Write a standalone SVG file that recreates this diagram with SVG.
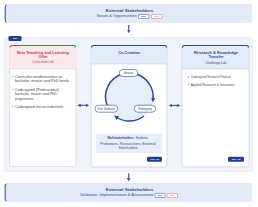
<svg xmlns="http://www.w3.org/2000/svg" width="258" height="207" viewBox="0 0 258 207">
<defs>
<style>
text{font-family:"Liberation Sans",Arial,sans-serif;}
.t{font-size:4.2px;font-weight:bold;fill:#2b4a8b;text-anchor:middle}
.s{font-size:3.5px;fill:#3a4f7a}
.b{font-size:3.3px;fill:#4a4a4a;}
.rt{font-size:3.8px;font-weight:bold;fill:#c23a47;text-anchor:middle}
.nt{font-size:3.8px;font-weight:bold;fill:#2b4a8b;text-anchor:middle}
.tag{fill:#22408a}
.tagt{font-size:2.4px;font-weight:bold;fill:#fff;text-anchor:middle}
.arrow{stroke:#3c5aa6;stroke-width:1.2;fill:none}
.pill{fill:#fff;stroke:#2b4a8b;stroke-width:0.6}
.pt{font-size:2.7px;fill:#2b4a8b;text-anchor:middle}
.it{font-size:3.3px;fill:#2b4a8b}
.bd{font-size:2.3px;text-anchor:middle;font-weight:bold}
</style>
<marker id="ah" viewBox="0 0 6 6" refX="3" refY="3" markerWidth="3" markerHeight="3" orient="auto-start-reverse"><path d="M0,0L6,3L0,6z" fill="#3c5aa6"/></marker>
<marker id="ch" viewBox="0 0 6 6" refX="3" refY="3" markerWidth="3" markerHeight="3" orient="auto"><path d="M0,0L6,3L0,6z" fill="#2b4a8b"/></marker>
</defs>

<g id="top-stakeholders">
<rect x="5" y="4" width="247" height="19" rx="2" fill="#e2eaf8"/>
<path d="M6.5,5 Q5.2,5 5.2,7 L5.2,20 Q5.2,22 6.5,22" stroke="#2b4a8b" stroke-width="1" fill="none"/>
<text class="t" x="129.5" y="12" textLength="47.5" lengthAdjust="spacingAndGlyphs">External Stakeholders</text>
<text class="s" x="96.7" y="17.3" textLength="40" lengthAdjust="spacingAndGlyphs">Needs &amp; Opportunities</text>
<rect x="138.5" y="14.5" width="10.5" height="4" rx="0.6" fill="#fff" stroke="#2b4a8b" stroke-width="0.45"/>
<text class="bd" x="143.75" y="17.3" fill="#2b4a8b">WTA</text>
<rect x="151.5" y="14.5" width="10.5" height="4" rx="0.6" fill="#fff" stroke="#d05a63" stroke-width="0.45"/>
<text class="bd" x="156.75" y="17.3" fill="#c23a47">PTA</text>
</g>

<g id="container">
<rect x="4.5" y="37.5" width="248" height="134" rx="2.5" fill="#f1f5fb" stroke="#dfe6f2" stroke-width="0.6"/>
<rect class="tag" x="8.5" y="36" width="13" height="5" rx="1.2"/>
<text class="tagt" x="15" y="39.3">TRL</text>
</g>

<g id="connectors">
<path class="arrow" d="M128.7,25 L128.7,31.5" marker-end="url(#ah)"/>
<path class="arrow" d="M128.7,173.3 L128.7,179.8" marker-end="url(#ah)"/>
<path class="arrow" d="M79,105.3 L87.5,105.3" marker-start="url(#ah)" marker-end="url(#ah)"/>
<path class="arrow" d="M170.5,105.5 L178.5,105.5" marker-start="url(#ah)" marker-end="url(#ah)"/>
</g>

<g id="curriculum-lab">
<rect x="9.5" y="45.5" width="66.5" height="121" rx="2.5" fill="#fff" stroke="#efc3c8" stroke-width="0.6"/>
<path d="M9.5,69 L9.5,48 Q9.5,45.5 12,45.5 L73.5,45.5 Q76,45.5 76,48 L76,69 Z" fill="#fbe8ea"/>
<path d="M10,47.5 Q10,45.5 12,45.5 L73.5,45.5 Q75.5,45.5 75.5,47.5" stroke="#c9404d" stroke-width="1.2" fill="none"/>
<line x1="9.5" y1="69" x2="76" y2="69" stroke="#efc3c8" stroke-width="0.5"/>
<text class="rt" x="43" y="53.6" textLength="52" lengthAdjust="spacingAndGlyphs">New Teaching and Learning</text>
<text class="rt" x="43" y="58.3">Offer</text>
<text x="43" y="63" style="font-size:3.2px;fill:#c23a47;text-anchor:middle">Curriculum Lab</text>
<g fill="#c9404d"><circle cx="12.8" cy="76.3" r="0.55"/><circle cx="12.8" cy="89.3" r="0.55"/><circle cx="12.8" cy="106.7" r="0.55"/></g>
<text class="b" x="15" y="77.5" textLength="47" lengthAdjust="spacingAndGlyphs">Curricular modernization at</text>
<text class="b" x="15" y="82.2" textLength="54" lengthAdjust="spacingAndGlyphs">bachelor, master and PhD levels</text>
<text class="b" x="15" y="90.5" textLength="44" lengthAdjust="spacingAndGlyphs">Codesigned (Professional)</text>
<text class="b" x="15" y="94.9" textLength="42" lengthAdjust="spacingAndGlyphs">bachelor, master and PhD</text>
<text class="b" x="15" y="99.5">programmes</text>
<text class="b" x="15" y="107.9" textLength="48" lengthAdjust="spacingAndGlyphs">Codesigned microcredentials</text>
</g>

<g id="co-creation">
<rect x="91" y="45.5" width="76" height="121.5" rx="2.5" fill="#fff" stroke="#b9c7e0" stroke-width="0.6"/>
<path d="M91,64 L91,48 Q91,45.5 93.5,45.5 L164.5,45.5 Q167,45.5 167,48 L167,64 Z" fill="#e3ebf8"/>
<path d="M91.5,47.5 Q91.5,45.5 93.5,45.5 L164.5,45.5 Q166.5,45.5 166.5,47.5" stroke="#2b4a8b" stroke-width="1.2" fill="none"/>
<line x1="91" y1="64" x2="167" y2="64" stroke="#b9c7e0" stroke-width="0.5"/>
<text class="nt" x="129" y="53.5">Co-Creation</text>
<circle cx="129.5" cy="97" r="24" fill="#e6edf9"/>
<path d="M136,74 A24,24 0 0 1 153,100" stroke="#2b4a8b" stroke-width="1.5" fill="none" marker-end="url(#ch)"/>
<path d="M144,116 A24,24 0 0 1 116,117" stroke="#2b4a8b" stroke-width="1.5" fill="none" marker-end="url(#ch)"/>
<path d="M107,105 A24,24 0 0 1 122,74" stroke="#2b4a8b" stroke-width="1.5" fill="none"/>
<rect class="pill" x="119.3" y="69.5" width="18.5" height="7" rx="3.5"/>
<text class="pt" x="128.5" y="74">Ideation</text>
<rect class="pill" x="95" y="105.2" width="22.7" height="7" rx="3.5"/>
<text class="pt" x="106.35" y="109.7" textLength="18" lengthAdjust="spacingAndGlyphs">User Validation</text>
<rect class="pill" x="134.3" y="105.2" width="21.4" height="7" rx="3.5"/>
<text class="pt" x="145" y="109.7">Prototyping</text>
<rect x="96" y="134" width="66" height="19" rx="1.5" fill="#e8eef9"/>
<text class="it" x="107.5" y="139.2" font-weight="bold" textLength="27" lengthAdjust="spacingAndGlyphs">Multistakeholders:</text>
<text class="it" x="135.5" y="139.2" textLength="13" lengthAdjust="spacingAndGlyphs">Students,</text>
<text class="it" x="128" y="144.5" text-anchor="middle" textLength="55.5" lengthAdjust="spacingAndGlyphs">Professors, Researchers, External</text>
<text class="it" x="128" y="149.4" text-anchor="middle">Stakeholders</text>
<rect class="tag" x="147" y="156.7" width="15" height="5" rx="1.2"/>
<text class="tagt" x="154.5" y="160">TRL 4/5</text>
</g>

<g id="challenge-lab">
<rect x="182" y="45.5" width="67" height="121.5" rx="2.5" fill="#fff" stroke="#b9c7e0" stroke-width="0.6"/>
<path d="M182,69 L182,48 Q182,45.5 184.5,45.5 L246.5,45.5 Q249,45.5 249,48 L249,69 Z" fill="#e3ebf8"/>
<path d="M182.5,47.5 Q182.5,45.5 184.5,45.5 L246.5,45.5 Q248.5,45.5 248.5,47.5" stroke="#2b4a8b" stroke-width="1.2" fill="none"/>
<line x1="182" y1="69" x2="249" y2="69" stroke="#b9c7e0" stroke-width="0.5"/>
<text class="nt" x="216" y="53.6" textLength="44" lengthAdjust="spacingAndGlyphs">Research &amp; Knowledge</text>
<text class="nt" x="216" y="58">Transfer</text>
<text x="216" y="64.3" style="font-size:3.2px;fill:#2b4a8b;text-anchor:middle">Challenge Lab</text>
<g fill="#2b4a8b"><circle cx="188.3" cy="77" r="0.55"/><circle cx="188.3" cy="84.3" r="0.55"/></g>
<text class="b" x="190.7" y="78.2" textLength="40" lengthAdjust="spacingAndGlyphs">Codesigned Research Projects</text>
<text class="b" x="190.7" y="85.5" textLength="44" lengthAdjust="spacingAndGlyphs">Applied Research &amp; Innovation</text>
<rect class="tag" x="228" y="156.7" width="16" height="5" rx="1.2"/>
<text class="tagt" x="236" y="160">TRL 7-8</text>
</g>

<g id="bottom-stakeholders">
<rect x="5" y="183" width="247" height="19" rx="2" fill="#e2eaf8"/>
<path d="M6.5,184 Q5.2,184 5.2,186 L5.2,199 Q5.2,201 6.5,201" stroke="#2b4a8b" stroke-width="1" fill="none"/>
<text class="t" x="129.5" y="191" textLength="47.5" lengthAdjust="spacingAndGlyphs">External Stakeholders</text>
<text class="s" x="80" y="196.3" textLength="73" lengthAdjust="spacingAndGlyphs">Validation, Implementation &amp; Assessment</text>
<rect x="155" y="193.5" width="10" height="4" rx="0.6" fill="#fff" stroke="#2b4a8b" stroke-width="0.45"/>
<text class="bd" x="160" y="196.3" fill="#2b4a8b">WTA</text>
<rect x="167" y="193.5" width="10.5" height="4" rx="0.6" fill="#fff" stroke="#d05a63" stroke-width="0.45"/>
<text class="bd" x="172.25" y="196.3" fill="#c23a47">PTA</text>
</g>
</svg>
